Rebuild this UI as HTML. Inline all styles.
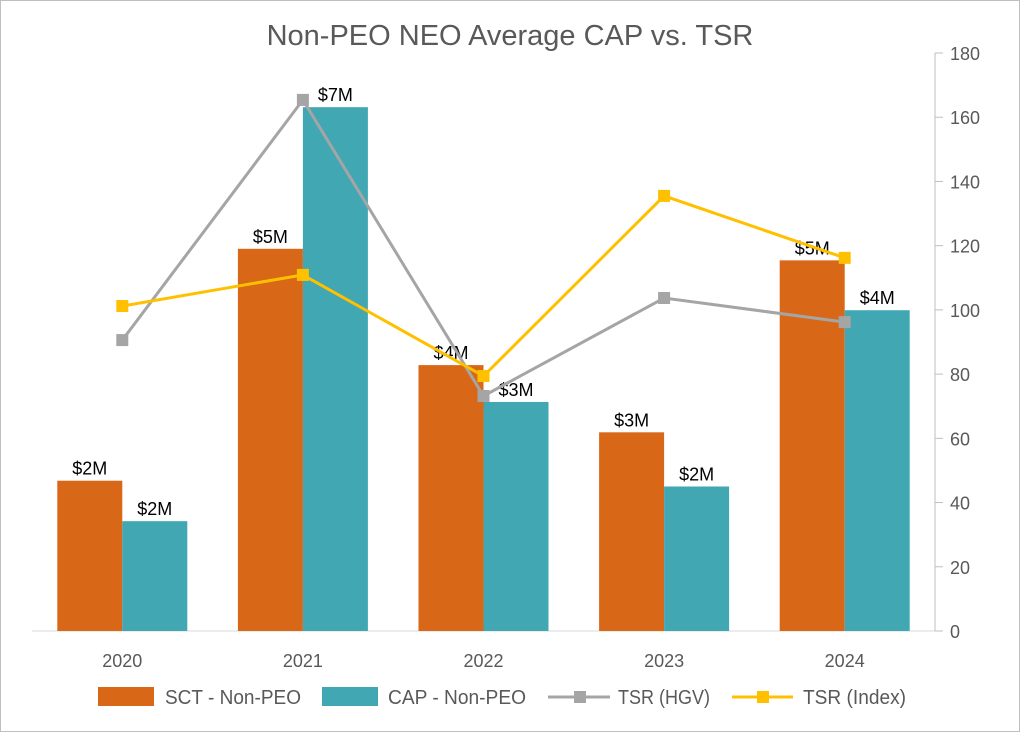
<!DOCTYPE html>
<html><head><meta charset="utf-8"><style>
body{margin:0;background:#fff;}
svg{display:block;font-family:"Liberation Sans",sans-serif;}
</style></head><body>
<svg id="chart" width="1020" height="732">
<rect x="0.5" y="0.5" width="1019" height="731" fill="#fff" stroke="#bfbfbf"/>
<text x="510" y="45" text-anchor="middle" font-size="29" fill="#595959">Non-PEO NEO Average CAP vs. TSR</text>
<g id="plot"></g>
<g id="legend">
<rect x="98" y="687" width="56" height="19" fill="#d86717"/>
<text x="165" y="704" font-size="20" fill="#595959" textLength="136" lengthAdjust="spacingAndGlyphs">SCT - Non-PEO</text>
<rect x="322" y="687" width="56" height="19" fill="#41a7b3"/>
<text x="388" y="704" font-size="20" fill="#595959" textLength="138" lengthAdjust="spacingAndGlyphs">CAP - Non-PEO</text>
<line x1="548" y1="697" x2="610" y2="697" stroke="#a5a5a5" stroke-width="3"/>
<rect x="574" y="691" width="12" height="12" fill="#a5a5a5"/>
<text x="618" y="704" font-size="20" fill="#595959" textLength="92" lengthAdjust="spacingAndGlyphs">TSR (HGV)</text>
<line x1="732" y1="697" x2="793" y2="697" stroke="#ffc000" stroke-width="3"/>
<rect x="757" y="691" width="12" height="12" fill="#ffc000"/>
<text x="803" y="704" font-size="20" fill="#595959" textLength="103" lengthAdjust="spacingAndGlyphs">TSR (Index)</text>
</g>
</svg>
<script>
const categories = ["2020","2021","2022","2023","2024"];
const sctValues = [2.08, 5.29, 3.68, 2.75, 5.13];
const capValues = [1.52, 7.25, 3.17, 2.0, 4.44];
const tsrHgv = [90.6, 165.4, 73.2, 103.7, 96.2];
const tsrIndex = [101.2, 110.9, 79.4, 135.5, 116.2];
const rightTicks = [0, 20, 40, 60, 80, 100, 120, 140, 160, 180];

const NS = "http://www.w3.org/2000/svg";
const g = document.getElementById("plot");
const plotLeft = 32, plotRight = 935, plotBase = 631, plotTop = 53;
const band = (plotRight - plotLeft) / categories.length;
const bw = 65;
const xC = i => plotLeft + band * (i + 0.5);
const yL = v => plotBase - v / 8 * (plotBase - plotTop);
const yR = v => plotBase - v / 180 * (plotBase - plotTop);
function mk(tag, attrs, text) {
  const e = document.createElementNS(NS, tag);
  for (const k in attrs) e.setAttribute(k, attrs[k]);
  if (text !== undefined) e.textContent = text;
  g.appendChild(e);
  return e;
}
let e = mk("line", {x1: plotLeft, y1: plotBase, x2: plotRight, y2: plotBase, stroke: "#d9d9d9", "stroke-width": 1});


e = mk("line", {x1: plotRight, y1: plotTop, x2: plotRight, y2: plotBase, stroke: "#bfbfbf", "stroke-width": 1});


rightTicks.forEach(t => {
  const y = yR(t);
  let tk = mk("line", {x1: plotRight, y1: y, x2: plotRight + 8, y2: y, stroke: "#bfbfbf"});
  
  
  let tl = mk("text", {x: 950, y: y + 7, "font-size": 18, fill: "#595959"}, String(t));
  
  
});
categories.forEach((c, i) => {
  const cx = xC(i);
  let b1 = mk("rect", {x: cx - bw, y: yL(sctValues[i]), width: bw, height: plotBase - yL(sctValues[i]), fill: "#d86717"});
  
  
  let b2 = mk("rect", {x: cx, y: yL(capValues[i]), width: bw, height: plotBase - yL(capValues[i]), fill: "#41a7b3"});
  
  
  let l1 = mk("text", {x: cx - bw / 2, y: yL(sctValues[i]) - 6, "font-size": 18, fill: "#000", "text-anchor": "middle"}, "$" + Math.round(sctValues[i]) + "M");
  
  
  let l2 = mk("text", {x: cx + bw / 2, y: yL(capValues[i]) - 6, "font-size": 18, fill: "#000", "text-anchor": "middle"}, "$" + Math.round(capValues[i]) + "M");
  
  
  let xl = mk("text", {x: cx, y: 667, "font-size": 18, fill: "#595959", "text-anchor": "middle"}, c);
  
  
});
function series(vals, color, name) {
  const pts = vals.map((v, i) => xC(i) + "," + yR(v)).join(" ");
  let pl = mk("polyline", {points: pts, fill: "none", stroke: color, "stroke-width": 3});
  
  
  vals.forEach((v, i) => {
    let m = mk("rect", {x: xC(i) - 6, y: yR(v) - 6, width: 12, height: 12, fill: color});
    
    
  });
}
series(tsrHgv, "#a5a5a5", "tsr-hgv");
series(tsrIndex, "#ffc000", "tsr-index");
</script>
</body></html>
